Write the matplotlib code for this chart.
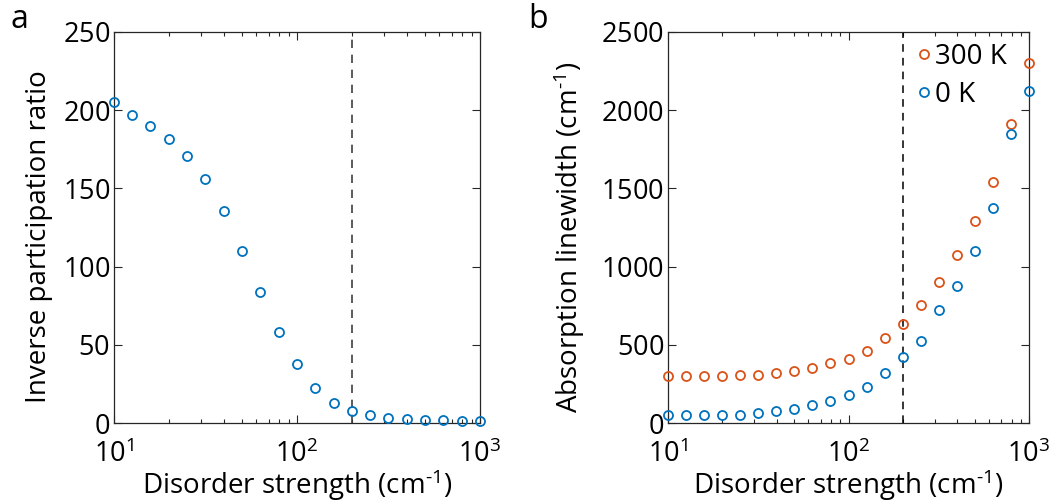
import matplotlib
matplotlib.use("Agg")
import matplotlib.pyplot as plt
import numpy as np
from matplotlib.ticker import FixedLocator, FixedFormatter, LogLocator, NullFormatter

plt.rcParams['font.family'] = ['Open Sans', 'DejaVu Sans']
plt.rcParams['mathtext.fontset'] = 'custom'
plt.rcParams['mathtext.rm'] = 'Open Sans'

# Data
disorder = [10.0, 12.6, 15.8, 20.0, 25.1, 31.6, 39.8, 50.1, 63.1, 79.4, 100.0,
            125.9, 158.5, 199.5, 251.2, 316.2, 398.1, 501.2, 631.0, 794.3, 1000.0]
ipr = [205, 197, 190, 181.6, 171, 156, 135.6, 110, 84, 58.4, 38,
       22.4, 12.8, 7.7, 4.9, 3.4, 2.6, 1.9, 1.7, 1.5, 1.3]
lw_300K = [298, 298, 302, 298, 308, 310, 321, 334, 353, 383, 412,
           463, 544, 631, 755, 903, 1077, 1294, 1541, 1912, 2301]
lw_0K = [49, 49, 51, 53, 54, 64, 79, 92, 113, 140, 181,
         232, 321, 421, 525, 720, 876, 1101, 1377, 1845, 2123]
threshold = 200
x_ticks = [10, 100, 1000]
x_ticklabels = [r'$\mathregular{10^{1}}$', r'$\mathregular{10^{2}}$', r'$\mathregular{10^{3}}$']
ipr_ticks = [0, 50, 100, 150, 200, 250]
lw_ticks = [0, 500, 1000, 1500, 2000, 2500]
series_labels = ['300 K', '0 K']

blue = '#0072BD'
orange = '#D95319'
fs_tick = 19.5
fs_lab = 20
unit = r'(cm$\mathregular{^{\text{-}1}}$)'

fig = plt.figure(figsize=(10.54, 5.04), dpi=100)
W, H = 1054, 504
ax1 = fig.add_axes([114 / W, 1 - 423 / H, (480 - 114) / W, (423 - 32) / H])
ax2 = fig.add_axes([668 / W, 1 - 423 / H, (1029 - 668) / W, (423 - 32) / H])

def style(ax, yticks):
    ax.set_xscale('log')
    ax.set_xlim(10, 1000)
    ax.xaxis.set_major_locator(FixedLocator(x_ticks))
    ax.xaxis.set_major_formatter(FixedFormatter(x_ticklabels))
    ax.xaxis.set_minor_locator(LogLocator(base=10, subs=np.arange(2, 10)))
    ax.xaxis.set_minor_formatter(NullFormatter())
    ax.set_ylim(yticks[0], yticks[-1])
    ax.yaxis.set_major_locator(FixedLocator(yticks))
    ax.yaxis.set_major_formatter(FixedFormatter([r'$\mathregular{%d}$' % v for v in yticks]))
    ax.tick_params(which='both', direction='in', top=True, right=True,
                   labelsize=fs_tick, colors='#262626', width=0.8)
    ax.tick_params(which='major', length=6)
    ax.tick_params(which='minor', length=3)
    ax.tick_params(axis='x', which='major', pad=12.5)
    ax.tick_params(axis='y', which='major', pad=3)
    for s in ax.spines.values():
        s.set_color('#262626')
        s.set_linewidth(0.9)
    for lab in ax.get_xticklabels() + ax.get_yticklabels():
        lab.set_color('black')
    ax.set_xlabel('Disorder strength ' + unit, fontsize=fs_lab, labelpad=-1)

ax1.plot(disorder, ipr, 'o', mfc='none', mec=blue, ms=6.5, mew=1.3, clip_on=False, zorder=3)
ax1.axvline(threshold, color='#404040', ls=(0, (5, 4)), lw=1.2)
ax1.set_ylabel('Inverse participation ratio', fontsize=fs_lab)
style(ax1, ipr_ticks)
ax1.yaxis.set_label_coords(-0.167, 0.476)

ax2.plot(disorder, lw_300K, 'o', mfc='none', mec=orange, ms=6.5, mew=1.3, clip_on=False,
         zorder=3, label=series_labels[0])
ax2.plot(disorder, lw_0K, 'o', mfc='none', mec=blue, ms=6.5, mew=1.3, clip_on=False,
         zorder=3, label=series_labels[1])
ax2.axvline(threshold, color='black', ls=(0, (5, 4)), lw=1.1)
ax2.set_ylabel('Absorption linewidth ' + unit, fontsize=fs_lab)
style(ax2, lw_ticks)
ax2.yaxis.set_label_coords(-0.224, 0.475)
ax2.legend(loc='upper left', bbox_to_anchor=(0.643, 1.015), frameon=False, fontsize=fs_lab,
           handlelength=0.5, handletextpad=0.15, borderaxespad=0.2, labelspacing=0.35)

fig.text(10 / W, 1 - 20 / H, 'a', fontsize=23, va='center', ha='left')
fig.text(528 / W, 1 - 20 / H, 'b', fontsize=23, va='center', ha='left')

fig.savefig('out.png', dpi=100)
